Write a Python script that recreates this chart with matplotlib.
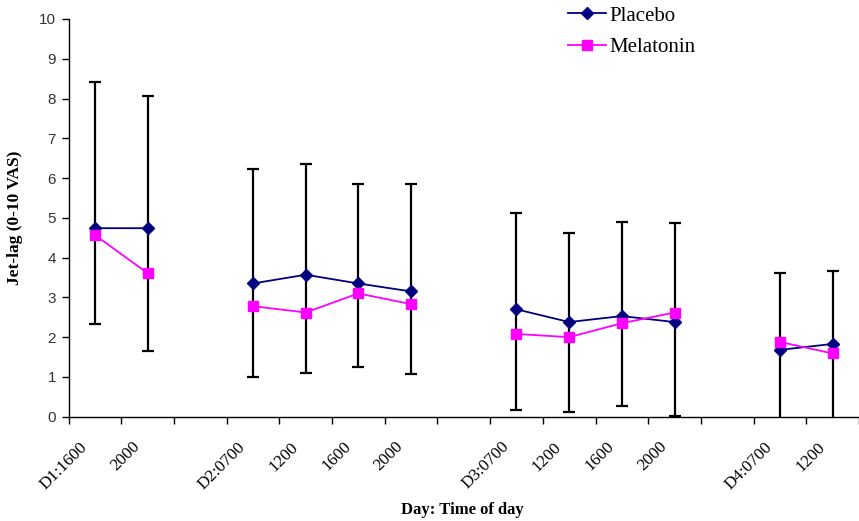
import numpy as np
import matplotlib
matplotlib.use("Agg")
import matplotlib.pyplot as plt
import matplotlib.transforms as mtransforms

nan = np.nan
categories = ['D1:1600', '2000', '', 'D2:0700', '1200', '1600', '2000', '',
              'D3:0700', '1200', '1600', '2000', '', 'D4:0700', '1200']
placebo = [4.74, 4.74, nan, 3.35, 3.57, 3.35, 3.15, nan, 2.70, 2.38, 2.53, 2.38, nan, 1.68, 1.83]
melatonin = [4.57, 3.61, nan, 2.78, 2.62, 3.10, 2.83, nan, 2.08, 2.00, 2.35, 2.62, nan, 1.88, 1.59]
err_upper = [8.42, 8.07, nan, 6.24, 6.35, 5.86, 5.84, nan, 5.11, 4.63, 4.90, 4.86, nan, 3.61, 3.67]
err_lower = [2.32, 1.66, nan, 0.99, 1.09, 1.24, 1.07, nan, 0.16, 0.13, 0.27, 0.03, nan, -0.5, -0.5]
y_ticks = list(range(0, 11))

serif = 'Liberation Serif'
fig = plt.figure(figsize=(8.59, 5.21), dpi=100)
ax = fig.add_axes([68.5 / 859, (521 - 416.7) / 521, 1 - 68.5 / 859, (416.7 - 19) / 521])

n = len(categories)
x = np.arange(n) + 0.5
pl = np.array(placebo)
me = np.array(melatonin)
up = np.array(err_upper)
lo = np.array(err_lower)

# error bars (combined range)
mid = (up + lo) / 2
ax.errorbar(x, mid, yerr=[mid - lo, up - mid], fmt='none', ecolor='black',
            elinewidth=1.6, capsize=4, capthick=1.6, zorder=1)

ax.plot(x, pl, color='#000080', lw=1.3, marker='D', ms=6, mec='#000080', mfc='#000080',
        label='Placebo', zorder=3)
ax.plot(x, me, color='#FF00FF', lw=1.3, marker='s', ms=7, mec='#FF00FF', mfc='#FF00FF',
        label='Melatonin', zorder=4)

ax.set_xlim(0, n)
ax.set_ylim(0, 10)
ax.spines['top'].set_visible(False)
ax.spines['right'].set_visible(False)
for s in ['left', 'bottom']:
    ax.spines[s].set_linewidth(1.0)
    ax.spines[s].set_color('black')

ax.set_yticks(y_ticks)
ax.set_yticklabels([str(v) for v in y_ticks], fontfamily='Liberation Sans', fontsize=11, color='#333333')
ax.tick_params(axis='y', direction='out', length=5, width=1, pad=4)

ax.set_xticks(np.arange(0, n + 1))
ax.set_xticklabels([])
ax.tick_params(axis='x', which='major', direction='out', length=5, width=1)
ax.set_xticks(x, minor=True)
ax.set_xticklabels(categories, minor=True, fontfamily=serif, fontsize=12.3,
                   rotation=45, ha='right', va='center', rotation_mode='anchor')
ax.tick_params(axis='x', which='minor', length=0, pad=20)
offset = mtransforms.ScaledTranslation(-10 / 100, 0, fig.dpi_scale_trans)
for lab in ax.xaxis.get_minorticklabels():
    lab.set_transform(lab.get_transform() + offset)

fig.text(15 / 859, 1 - 218 / 521, 'Jet-lag (0-10 VAS)', rotation=90, ha='center', va='center',
         fontfamily=serif, fontweight='bold', fontsize=12.5)
fig.text(462 / 859, 1 - 510 / 521, 'Day: Time of day', ha='center', va='center',
         fontfamily=serif, fontweight='bold', fontsize=12)

leg = fig.legend(loc='upper left', bbox_to_anchor=(564 / 859, 1 - 2 / 521), frameon=False,
                 prop={'family': serif, 'size': 15}, handlelength=1.8, handletextpad=0.2,
                 labelspacing=0.55, borderaxespad=0, borderpad=0.2)

fig.savefig('out.png', dpi=100)
